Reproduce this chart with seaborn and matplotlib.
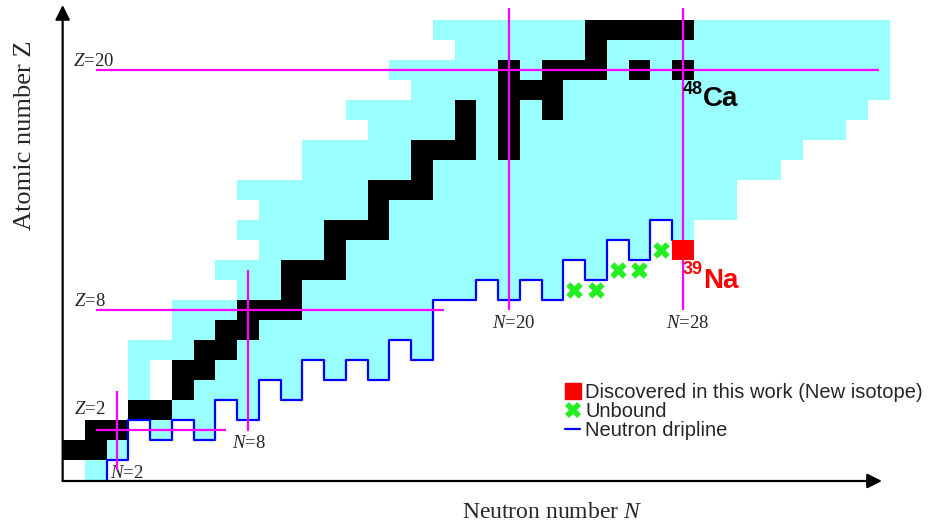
import numpy as np
import pandas as pd
import matplotlib
matplotlib.use("Agg")
import matplotlib.pyplot as plt
from matplotlib.colors import ListedColormap
from matplotlib.lines import Line2D
import seaborn as sns

# Known isotopes per element Z: lowest and highest neutron number N
Z_VALUES = list(range(23))
N_MIN = [1, 0, 1, 3, 3, 3, 3, 5, 5, 8, 7, 9, 8, 9, 8, 11, 11, 14, 13, 16, 15, 18, 17]
N_MAX = [1, 2, 6, 8, 10, 14, 16, 16, 16, 22, 24, 26, 28, 30, 30, 32, 33, 35, 36, 37, 37, 37, 37]

# Stable isotopes (black cells)
STABLE_Z = [1, 1, 2, 2, 3, 3, 4, 5, 5, 6, 6, 7, 7, 8, 8, 8, 9, 10, 10, 10, 11,
            12, 12, 12, 13, 14, 14, 14, 15, 16, 16, 16, 16, 17, 17, 18, 18, 18,
            19, 19, 19, 20, 20, 20, 20, 20, 20, 21, 22, 22, 22, 22, 22]
STABLE_N = [0, 1, 1, 2, 3, 4, 5, 5, 6, 6, 7, 7, 8, 8, 9, 10, 10, 10, 11, 12, 12,
            12, 13, 14, 14, 14, 15, 16, 16, 16, 17, 18, 20, 18, 20, 18, 20, 22,
            20, 21, 22, 20, 22, 23, 24, 26, 28, 24, 24, 25, 26, 27, 28]

# Unbound gaps inside the chart (8Be, 9B)
HOLE_N = [4, 4]
HOLE_Z = [4, 5]

# Neutron dripline: lowest bound Z for each N
DRIP_N = list(range(2, 29))
DRIP_ZMIN = [1, 3, 2, 3, 2, 4, 3, 5, 4, 6, 5, 6, 5, 7, 6, 9, 9, 10, 9, 10, 9,
             11, 10, 12, 11, 13, 12]

# Unbound nuclei and the new isotope 39Na
UNBOUND_N = [23, 24, 25, 26, 27]
UNBOUND_Z = [9, 9, 10, 10, 11]
NEW_N = [28]
NEW_Z = [11]

sns.set_style("white")
plt.rcParams['font.family'] = ['Liberation Serif', 'DejaVu Serif']
plt.rcParams['mathtext.fontset'] = 'custom'
plt.rcParams['mathtext.rm'] = 'Liberation Serif'
plt.rcParams['mathtext.it'] = 'Liberation Serif:italic'

SANS = ['Liberation Sans', 'DejaVu Sans']
MAGENTA = '#ff00ff'

# cell grid: 1 = known, 2 = stable
n_cols = max(N_MAX) + 1
grid = np.zeros((len(Z_VALUES), n_cols))
for z, lo, hi in zip(Z_VALUES, N_MIN, N_MAX):
    grid[z, lo:hi + 1] = 1
for n, zmin in zip(DRIP_N, DRIP_ZMIN):
    grid[:zmin, n] = 0
for n, z in zip(HOLE_N, HOLE_Z):
    grid[z, n] = 0
for n, z in zip(STABLE_N, STABLE_Z):
    grid[z, n] = 2
chart = pd.DataFrame(grid)

new_grid = np.zeros_like(grid)
for n, z in zip(NEW_N, NEW_Z):
    new_grid[z, n] = 1
new_cells = pd.DataFrame(new_grid)

fig = plt.figure(figsize=(9.32, 5.27), dpi=100)
ax = fig.add_axes([0, 0, 1, 1])

sns.heatmap(chart, mask=chart == 0, cmap=ListedColormap(['#99ffff', 'black']),
            vmin=0.5, vmax=2.5, cbar=False, ax=ax,
            xticklabels=False, yticklabels=False)
sns.heatmap(new_cells, mask=new_cells == 0, cmap=ListedColormap(['#ff0000']),
            vmin=0, vmax=1, cbar=False, ax=ax,
            xticklabels=False, yticklabels=False)
ax.collections[-1].set_zorder(6)

# magic number lines (cell centres sit at index + 0.5)
z_extent = {2: (1, 7), 8: (1, 17), 20: (1, 37)}
for z, (n0, n1) in z_extent.items():
    ax.hlines(z + 0.5, n0 + 0.5, n1 + 0.5, color=MAGENTA, lw=1.6, zorder=4)
n_extent = {2: (0, 3.95), 8: (1.95, 10), 20: (8, 23.1), 28: (8, 23.1)}
for n, (z0, z1) in n_extent.items():
    ax.vlines(n + 0.5, z0 + 0.5, z1 + 0.5, color=MAGENTA, lw=1.6, zorder=4)

# neutron dripline
drip_x = [DRIP_N[0]] + DRIP_N
drip_y = [0] + DRIP_ZMIN
sns.lineplot(x=drip_x, y=drip_y, estimator=None, sort=False,
             drawstyle='steps-post', color='#0000ff', lw=1.6, ax=ax, zorder=3)

sns.scatterplot(x=np.array(UNBOUND_N) + 0.5, y=np.array(UNBOUND_Z) + 0.5,
                marker='X', s=140, color='#22ee22', linewidth=0, ax=ax, zorder=5)

# labels for magic numbers
lab_fs = 13.5
for z, (u, v) in {20: (0.45, 20.95), 8: (0.5, 8.95), 2: (0.5, 3.55)}.items():
    ax.text(u, v, f'$Z$={z}', fontsize=lab_fs, ha='left', va='center')
for n, (u, v) in {2: (2.95, 0.35), 8: (8.55, 1.8), 20: (20.73, 7.8), 28: (28.73, 7.8)}.items():
    ax.text(u, v, f'$N$={n}', fontsize=lab_fs, ha='center', va='center')

# nucleus names
ax.text(28.5, 19.5, '48', fontsize=13, fontweight='bold', family=SANS,
        color='black', ha='left', va='center', zorder=7)
ax.text(29.42, 19.05, 'Ca', fontsize=20, fontweight='bold', family=SANS,
        color='black', ha='left', va='center', zorder=7)
ax.text(28.5, 10.5, '39', fontsize=13, fontweight='bold', family=SANS,
        color='#ff0000', ha='left', va='center', zorder=7)
ax.text(29.42, 9.95, 'Na', fontsize=20, fontweight='bold', family=SANS,
        color='#ff0000', ha='left', va='center', zorder=7)

# axes with arrows
arrow = dict(arrowstyle='-|>', color='black', lw=1.6, mutation_scale=22,
             shrinkA=0, shrinkB=0)
ax.annotate('', xy=(37.65, -0.05), xytext=(-0.02, -0.05), arrowprops=arrow)
ax.annotate('', xy=(-0.02, 23.75), xytext=(-0.02, -0.05), arrowprops=arrow)

ax.set_xlim(-2.90, 39.95)
ax.set_ylim(-2.35, 24.0)
ax.axis('off')

fig.text(552 / 932, 1 - 512 / 527, 'Neutron number $N$', fontsize=17,
         ha='center', va='center')
fig.text(25 / 932, 1 - 135 / 527, 'Atomic number Z', fontsize=19,
         rotation=90, ha='center', va='center')

handles = [
    Line2D([], [], marker='s', ms=11, color='#ff0000', ls='none'),
    Line2D([], [], marker='X', ms=12, color='#22ee22', mew=0, ls='none'),
    Line2D([], [], color='#0000ff', lw=1.6),
]
labels = ['Discovered in this work (New isotope)', 'Unbound', 'Neutron dripline']
fig.legend(handles, labels, loc='upper left', bbox_to_anchor=(565 / 932, 1 - 383 / 527),
           frameon=False, borderpad=0, handlelength=0.75, handletextpad=0.25,
           labelspacing=0.0, borderaxespad=0, prop={'family': SANS, 'size': 14.5})

fig.savefig('out.png', dpi=100)
